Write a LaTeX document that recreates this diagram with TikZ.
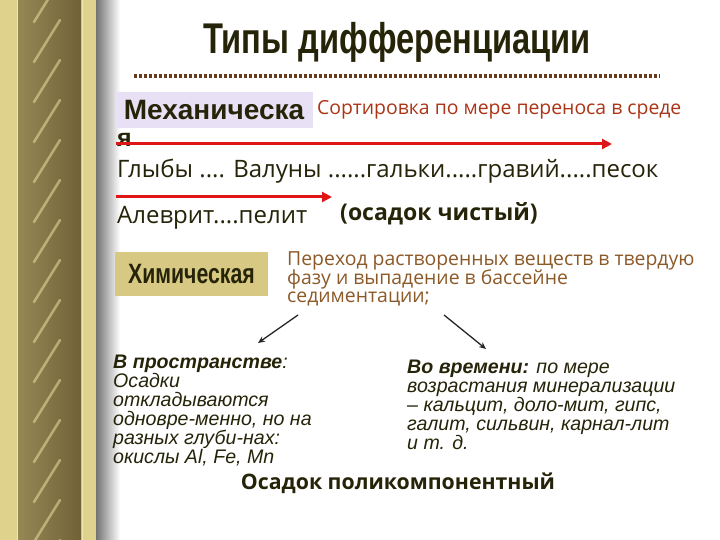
\documentclass[tikz,border=0pt]{standalone}
\usepackage{fontspec}
\setmainfont{Liberation Sans}
\newfontfamily\impactfont{Liberation Sans Bold}[FakeStretch=0.76]
\newfontfamily\comicfont{Open Sans}
\usetikzlibrary{arrows.meta,positioning}
\newcommand\tightlines{\lineskiplimit=-20pt\relax}

\definecolor{gold}{RGB}{222,210,140}
\definecolor{goldline}{RGB}{240,230,175}
\definecolor{olivedark}{RGB}{112,98,55}
\definecolor{olivemid}{RGB}{150,135,85}
\definecolor{olivelight}{RGB}{190,175,112}
\definecolor{streakc}{RGB}{238,222,160}
\definecolor{textdark}{RGB}{38,36,8}
\definecolor{dotbrown}{RGB}{105,58,30}
\definecolor{lavender}{RGB}{232,224,245}
\definecolor{tanbox}{RGB}{215,200,132}
\definecolor{rustred}{RGB}{172,52,22}
\definecolor{brownish}{RGB}{140,90,40}
\definecolor{arrowred}{RGB}{222,22,22}

\begin{document}
\begin{tikzpicture}[x=1pt, y=-1pt,
  comic/.style={font=\comicfont\fontsize{24}{26}\selectfont, text=textdark,
    inner sep=0pt, anchor=west},
  headbox/.style={inner sep=0pt, minimum width=198pt, minimum height=36pt,
    font=\bfseries\fontsize{28}{30}\selectfont, text=textdark},
  italblock/.style={inner sep=0pt, anchor=north west, align=left,
    font=\itshape\fontsize{19.6}{19}\selectfont\tightlines,
    text=textdark},
  redarrow/.style={draw=arrowred, line width=3pt,
    -{Triangle[length=10pt, width=10pt]}},
  thinarrow/.style={draw=black!85, line width=1.3pt,
    -{Stealth[length=7pt, width=6pt]}},
  dotline/.style={draw=dotbrown, line width=3.5pt, dash pattern=on 3pt off 2pt},
  streak/.style={draw=streakc, line width=2.5pt, opacity=0.55, line cap=round},
]
  \useasboundingbox (0,0) rectangle (720,540);
  \fill[white] (0,0) rectangle (720,540);

  % --- gold column on the left ---
  \fill[gold] (0,0) rectangle (96,540);
  \shade[left color=olivemid, middle color=olivelight, right color=olivedark]
    (18,0) rectangle (81,540);
  \begin{scope}
    \clip (26,0) rectangle (70,540);
    \foreach \y in {-40,0,...,600}
      \draw[streak] (34,\y+22) -- (60,\y-20);
  \end{scope}
  \draw[goldline, line width=1pt] (17,0) -- (17,540);
  \draw[goldline, line width=1pt] (82,0) -- (82,540);
  \shade[left color=black!55, right color=white] (96,0) rectangle (120,540);

  % --- title ---
  \node[font=\impactfont\fontsize{43}{46}\selectfont, text=textdark,
    inner sep=0pt] (title) at (397,42) {Типы дифференциации};
  \coordinate (dotL) at (134,76);
  \coordinate (dotR) at (660,76);
  \draw[dotline] (dotL) -- (dotR);

  % --- mechanical ---
  \node[headbox, fill=lavender] (mech) at (214,110) {Механическа};
  \node[comic, text=rustred, font=\comicfont\fontsize{19.4}{22}\selectfont]
    (sort) at (317,110) {Сортировка по мере переноса в среде};
  \node[font=\bfseries\fontsize{25}{26}\selectfont, text=textdark,
    inner sep=0pt, anchor=west] (ya) at (117,140) {я};

  \coordinate (r1L) at (116,144);
  \coordinate (r1R) at (612,144);
  \draw[redarrow] (r1L) -- (r1R);
  \node[comic] (row1) at (117,171)
    {Глыбы .... Валуны ......гальки.....гравий.....песок};
  \coordinate (r2L) at (116,197);
  \coordinate (r2R) at (332,197);
  \draw[redarrow] (r2L) -- (r2R);
  \node[comic] (row2) at (117,218) {Алеврит....пелит};
  \node[comic, font=\comicfont\bfseries\fontsize{23}{26}\selectfont]
    (pure) at (340,214) {(осадок чистый)};

  % --- chemical ---
  \node[fill=tanbox, minimum width=153pt, minimum height=44pt, inner sep=0pt,
    font=\impactfont\fontsize{28}{30}\selectfont, text=textdark]
    (chem) at (191.5,274) {Химическая};
  \node[comic, text=brownish, align=left,
    font=\comicfont\fontsize{19.4}{18.5}\selectfont\tightlines]
    (trans) at (287,279) {Переход растворенных веществ в твердую\\
      фазу и выпадение в бассейне\\седиментации;};

  \coordinate (aLs) at (298,315);
  \coordinate (aLe) at (258,343);
  \coordinate (aRs) at (444,315);
  \coordinate (aRe) at (486,349);
  \draw[thinarrow] (aLs) -- (aLe);
  \draw[thinarrow] (aRs) -- (aRe);

  \node[italblock] (space) at (113,355)
    {\textbf{В пространстве}:\\Осадки\\откладываются\\одновре-менно, но на\\
      разных глуби-нах:\\окислы Al, Fe, Mn};
  \node[italblock] (time) at (407,360)
    {\textbf{Во времени:} по мере\\возрастания минерализации\\
      – кальцит, доло-мит, гипс,\\галит, сильвин, карнал-лит\\и т. д.};

  \node[comic, anchor=center, font=\comicfont\bfseries\fontsize{21.3}{24}\selectfont]
    (multi) at (398,483) {Осадок поликомпонентный};
\end{tikzpicture}
\end{document}
